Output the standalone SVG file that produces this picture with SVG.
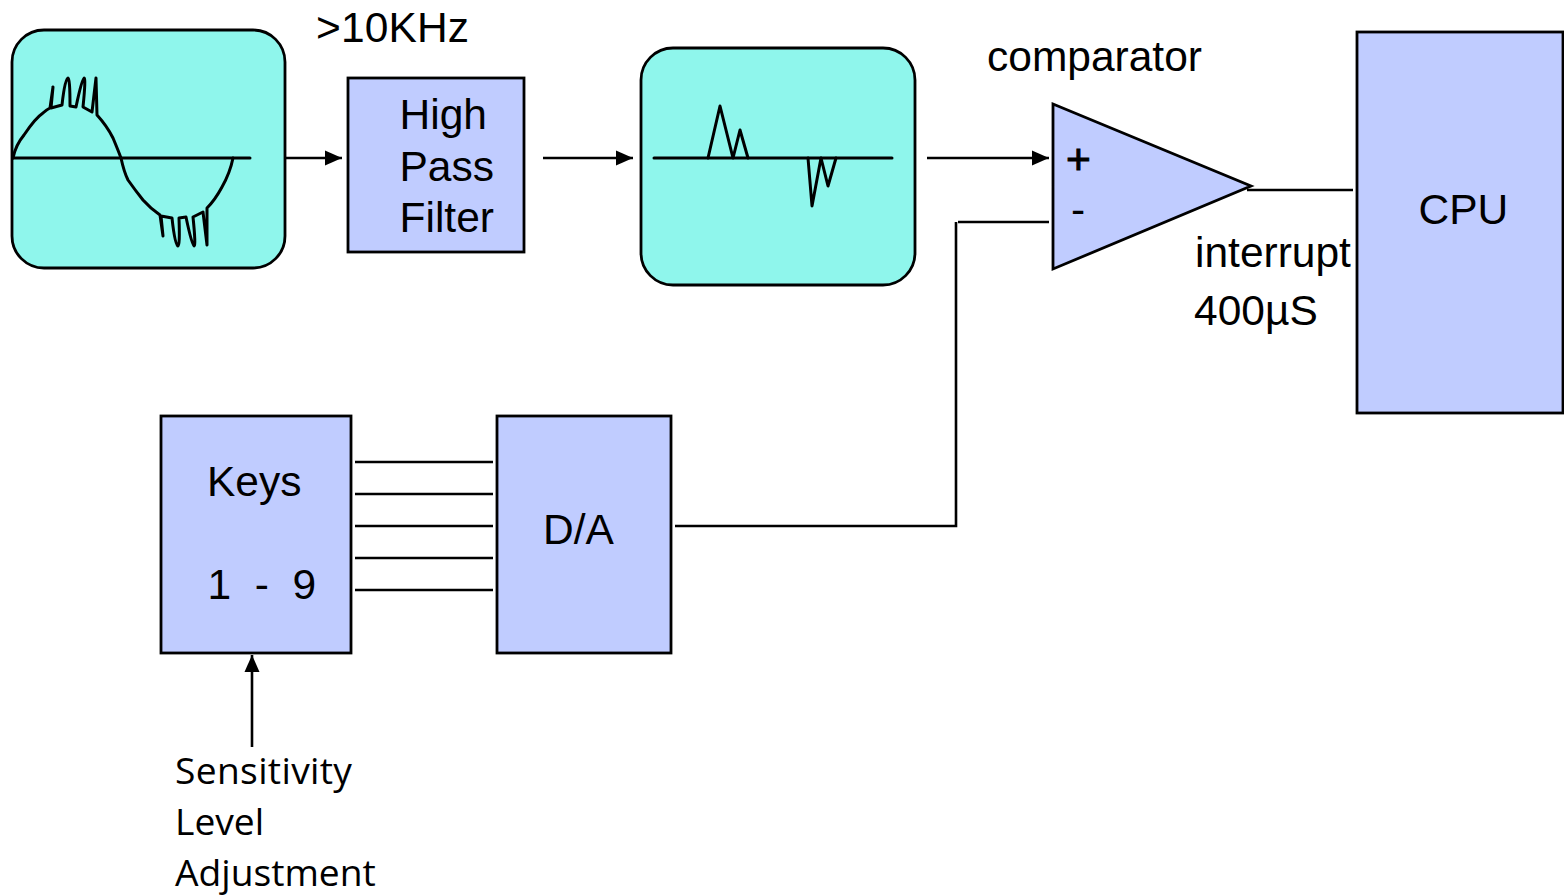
<svg xmlns="http://www.w3.org/2000/svg" width="1564" height="895" viewBox="0 0 1564 895">
<defs>
<marker id="arr" markerUnits="userSpaceOnUse" markerWidth="18" markerHeight="16" refX="17" refY="8" orient="auto"><path d="M0,0.5 L17,8 L0,15.5 Z" fill="#000"/></marker>
</defs>
<style>
.scope{fill:#8ff6ec;stroke:#000;stroke-width:2.8}
.box{fill:#c0ccff;stroke:#000;stroke-width:2.8}
.wave{fill:none;stroke:#000;stroke-width:3;stroke-linejoin:round;stroke-linecap:round}
.c{fill:none;stroke:#000;stroke-width:2.6}
text{font-family:"Liberation Sans",Arial,sans-serif;font-size:42.5px;fill:#000}
.o{font-family:"Open Sans","Noto Sans",sans-serif;font-size:37.2px}
.sign{stroke:#000;stroke-width:1}
</style>
<rect width="1564" height="895" fill="#fff"/>
<g id="scope-input">
<rect class="scope" x="12" y="30" width="273" height="238" rx="32"/>
<path class="wave" d="M13,158 L250,158"/>
<path class="wave" d="M13,158 C15,148 19,141 24,135 C30,126 37,117 43,113 C46,110 48,109 50,108 L53,87 L51,108 L62,105 Q65,78 68,78 Q70,78 70,106 L76,107 Q82,78 84,78 Q86,78 83,107 L92,112 L96,78 L97,115 Q107,126 113,138 Q118,150 121,158 Q124,172 128,180 Q135,190 143,200 Q150,208 160,215 L163,236 L161,216 L172,218 Q175,246 178,246 Q180,246 179,218 L186,217 Q192,246 194,246 Q196,246 193,217 L203,212 L207,245 L207,208 Q215,200 222,187 Q230,173 233,158"/>
</g>
<g id="hpf">
<rect class="box" x="348" y="78" width="176" height="174"/>
<text x="399.500" y="129">High</text>
<text x="399.500" y="181">Pass</text>
<text x="399.500" y="232">Filter</text>
</g>
<g id="scope-output">
<rect class="scope" x="641" y="48" width="274" height="237" rx="32"/>
<path class="wave" d="M654,158 L892,158"/>
<path class="wave" d="M708,158 L720,106 L733,158 L740,130 L748,158"/>
<path class="wave" d="M808,158 L812,206 L821,158 L828,186 L836,158"/>
</g>
<g id="comparator">
<path class="box" d="M1053,104 L1251,186 L1053,269 Z"/>
<text class="sign" x="1066" y="174">+</text>
<text x="1071" y="224">-</text>
</g>
<g id="cpu">
<rect class="box" x="1357" y="32" width="206" height="381"/>
<text x="1418.500" y="224">CPU</text>
</g>
<g id="keys">
<rect class="box" x="161" y="416" width="190" height="237"/>
<text x="207" y="496">Keys</text>
<text x="207.500" y="599" xml:space="preserve">1  -  9</text>
</g>
<g id="da">
<rect class="box" x="497" y="416" width="174" height="237"/>
<text x="543" y="544">D/A</text>
</g>
<g id="connectors">
<path class="c" marker-end="url(#arr)" d="M286,158 H342"/>
<path class="c" marker-end="url(#arr)" d="M543,158 H633"/>
<path class="c" marker-end="url(#arr)" d="M927,158 H1049"/>
<path class="c" d="M1049,222 H958"/>
<path class="c" d="M956,222 V526 H675"/>
<path class="c" d="M1247,190 H1353"/>
<path class="c" d="M355,462 H493 M355,494 H493 M355,526 H493 M355,558 H493 M355,590 H493"/>
<path class="c" marker-end="url(#arr)" d="M252,747 V655"/>
</g>
<g id="labels">
<text x="316" y="42" textLength="153">&gt;10KHz</text>
<text x="987" y="71">comparator</text>
<text x="1195" y="267">interrupt</text>
<text x="1194" y="325">400µS</text>
<text class="o" x="175" y="784" textLength="177">Sensitivity</text>
<text class="o" x="175" y="835">Level</text>
<text class="o" x="175" y="886">Adjustment</text>
</g>
</svg>
